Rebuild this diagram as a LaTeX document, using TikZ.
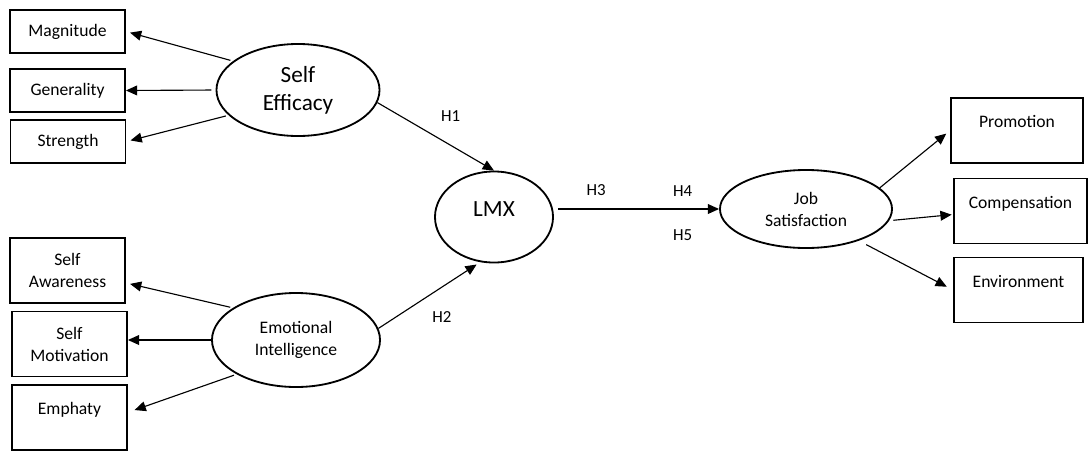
\documentclass[tikz,border=0pt]{standalone}
\usepackage{fontspec}
\setmainfont{Carlito}
\usetikzlibrary{shapes.geometric,arrows.meta,positioning}

\begin{document}
\begin{tikzpicture}[x=0.025cm, y=-0.025cm,
  >={Triangle[length=8pt,width=7pt]},
  box/.style={draw, line width=1.3pt, minimum width=2.875cm, minimum height=1.075cm, inner sep=0pt, align=center, font=\fontsize{12.5}{15.6}\selectfont},
  tallbox/.style={box, minimum height=1.625cm},
  topbox/.style={tallbox, text height=9pt, text depth=13pt},
  latent/.style={draw, ellipse, line width=1.3pt, inner sep=0pt, align=center, font=\fontsize{12.5}{15.6}\selectfont},
  big/.style={font=\fontsize{16.5}{20}\selectfont},
  link/.style={->, line width=0.8pt},
  hyp/.style={font=\fontsize{12}{14}\selectfont}]

 \useasboundingbox (0,0) rectangle (1088,450);

 %self efficacy side
 \node[box] (mag) at (67.5,31.5) {Magnitude};
 \node[box] (gen) at (67.5,90.5) {Generality};
 \node[box] (str) at (68,141.5) {Strength};
 \node[latent, big, minimum width=4.075cm, minimum height=2.3cm] (se) at (298,90) {Self\\Efficacy};

 %emotional intelligence side
 \node[tallbox] (saw) at (67.5,270.5) {Self\\Awareness};
 \node[tallbox] (smo) at (69.5,344) {Self\\Motivation};
 \node[topbox] (emp) at (69.5,417.5) {Emphaty};
 \node[latent, minimum width=4.2cm, minimum height=2.35cm] (ei) at (296,340) {Emotional\\Intelligence};

 %middle
 \node[latent, big, minimum width=2.95cm, minimum height=2.275cm, text depth=12pt] (lmx) at (494,217) {LMX};
 \node[latent, minimum width=4.3cm, minimum height=1.95cm] (js) at (806,209) {Job\\Satisfaction};

 %job satisfaction side
 \node[topbox, minimum width=3.3cm] (prom) at (1017,130.5) {Promotion};
 \node[topbox, minimum width=3.325cm] (comp) at (1020.5,211) {Compensation};
 \node[topbox, minimum width=3.225cm] (env) at (1018.5,290) {Environment};

 %arrows 
 \draw[link, shorten <=2pt, shorten >=3pt] (se.156) -- (mag.east);
 \draw[link, shorten <=3pt] (se.west) -- (gen.east);
 \draw[link, shorten <=2pt, shorten >=3pt] (se.200) -- (str.east);

 \draw[link, shorten <=2pt, shorten >=3pt] (ei.153) -- (saw.-12);
 \draw[link] (ei.west) -- (smo.east |- ei.west);
 \draw[link, shorten <=2pt, shorten >=5pt] (ei.210) -- (emp.5);

 \draw[link] (se.-9) -- node[hyp, pos=0.45, above right=6pt] (h1) {H1} (lmx.north);
 \draw[link, shorten >=3pt] (ei.8) -- node[hyp, pos=0.42, below right=6pt] (h2) {H2} (lmx.-107);

 \draw[link, shorten <=3pt] (lmx.east |- js.west) -- node[hyp, pos=0.255, above=6pt] (h3) {H3} node[hyp, pos=0.78, above=5pt] (h4) {H4} node[hyp, pos=0.78, below=11pt] (h5) {H5} (js.west);

 \draw[link, shorten >=3.5pt] (js.16) -- (prom.west);
 \draw[link, shorten <=3pt, shorten >=1pt] (js.-8) -- (comp.183);
 \draw[link, shorten <=6pt, shorten >=5pt] (js.-31) -- (env.west);

\end{tikzpicture}
\end{document}
